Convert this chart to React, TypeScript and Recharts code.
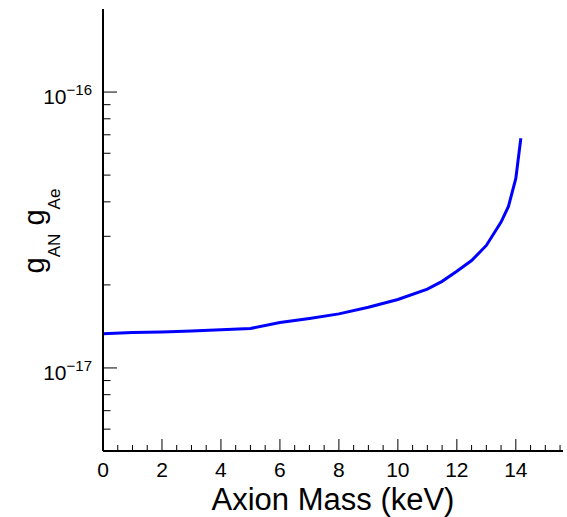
import React from "react";
import { LineChart, Line, XAxis, YAxis } from "recharts";

const massKeV = [0, 1, 2, 3, 4, 5, 6, 7, 8, 9, 10, 11, 11.5, 12, 12.5, 13, 13.5, 13.75, 14, 14.17];
const coupling = [
  1.33e-17, 1.345e-17, 1.35e-17, 1.36e-17, 1.375e-17, 1.39e-17, 1.46e-17, 1.51e-17,
  1.57e-17, 1.66e-17, 1.77e-17, 1.93e-17, 2.06e-17, 2.24e-17, 2.45e-17, 2.78e-17, 3.38e-17,
  3.85e-17, 4.86e-17, 6.8e-17,
];
const xTicks = [
  0, 0.5, 1, 1.5, 2, 2.5, 3, 3.5, 4, 4.5, 5, 5.5, 6, 6.5, 7, 7.5, 8, 8.5, 9, 9.5, 10,
  10.5, 11, 11.5, 12, 12.5, 13, 13.5, 14, 14.5, 15, 15.5,
];
const xMajorLabels = [0, 2, 4, 6, 8, 10, 12, 14];
const yTicks = [
  6e-18, 7e-18, 8e-18, 9e-18, 1e-17, 2e-17, 3e-17, 4e-17, 5e-17, 6e-17, 7e-17, 8e-17,
  9e-17, 1e-16,
];
const xDomain = [0, 15.6];
const yDomain = [5e-18, 2e-16];

const data = massKeV.map((m, i) => ({ mass: m, g: coupling[i] }));

const FONT = "'Liberation Sans', Arial, Helvetica, sans-serif";

const isMajorX = (v: number) => Math.abs(v - Math.round(v)) < 1e-9 && Math.round(v) % 2 === 0;
const isMajorY = (v: number) => {
  const l = Math.log10(v);
  return Math.abs(l - Math.round(l)) < 1e-6;
};

const BottomTick = (props: any) => {
  const { x, y, payload } = props;
  const v = payload.value;
  const major = isMajorX(v);
  return (
    <g>
      <line x1={x} x2={x} y1={y} y2={y - (major ? 12 : 6)} stroke="#000" strokeWidth={1} />
      {xMajorLabels.includes(v) ? (
        <text x={x} y={y + 25.5} textAnchor="middle" fontSize={21} fontFamily={FONT} fill="#000">
          {v}
        </text>
      ) : null}
    </g>
  );
};

const TopTick = (props: any) => {
  const { x, y, payload } = props;
  const major = isMajorX(payload.value);
  return <line x1={x} x2={x} y1={y} y2={y + (major ? 12 : 6)} stroke="#000" strokeWidth={1} />;
};

const LeftTick = (props: any) => {
  const { x, y, payload } = props;
  const v = payload.value;
  const major = isMajorY(v);
  const exp = Math.round(Math.log10(v));
  return (
    <g>
      <line x1={x} x2={x + (major ? 14 : 7.5)} y1={y} y2={y} stroke="#000" strokeWidth={1} />
      {major ? (
        <text x={x - 11} y={y + 12} textAnchor="end" fontSize={21} fontFamily={FONT} fill="#000">
          <tspan>10</tspan>
          <tspan dy={-9} fontSize={15}>{"\u2212" + Math.abs(exp)}</tspan>
        </text>
      ) : null}
    </g>
  );
};

const RightTick = (props: any) => {
  const { x, y, payload } = props;
  const major = isMajorY(payload.value);
  return <line x1={x} x2={x - (major ? 14 : 7.5)} y1={y} y2={y} stroke="#000" strokeWidth={1} />;
};

export default function App() {
  return (
    <div style={{ position: "fixed", left: 0, top: 0, background: "#fff" }}>
      <LineChart
        width={567}
        height={517}
        data={data}
        margin={{ top: 9, right: 4, bottom: 0, left: 0 }}
      >
        <XAxis
          xAxisId="b"
          type="number"
          dataKey="mass"
          domain={xDomain}
          ticks={xTicks}
          interval={0}
          height={66}
          tickSize={0}
          tickMargin={0}
          tickLine={false}
          axisLine={{ stroke: "#000", strokeWidth: 2 }}
          tick={<BottomTick />}
          allowDataOverflow
        />
        <XAxis
          xAxisId="t"
          orientation="top"
          type="number"
          dataKey="mass"
          domain={xDomain}
          ticks={xTicks}
          interval={0}
          height={0}
          tickSize={0}
          tickMargin={0}
          tickLine={false}
          axisLine={{ stroke: "#000", strokeWidth: 2 }}
          tick={<TopTick />}
          allowDataOverflow
        />
        <YAxis
          yAxisId="l"
          scale="log"
          type="number"
          domain={yDomain}
          ticks={yTicks}
          interval={0}
          width={103}
          tickSize={0}
          tickMargin={0}
          tickLine={false}
          axisLine={{ stroke: "#000", strokeWidth: 2 }}
          tick={<LeftTick />}
          allowDataOverflow
        />
        <YAxis
          yAxisId="r"
          orientation="right"
          scale="log"
          type="number"
          domain={yDomain}
          ticks={yTicks}
          interval={0}
          width={0}
          tickSize={0}
          tickMargin={0}
          tickLine={false}
          axisLine={{ stroke: "#000", strokeWidth: 2 }}
          tick={<RightTick />}
          allowDataOverflow
        />
        <Line
          xAxisId="b"
          yAxisId="l"
          type="linear"
          dataKey="g"
          stroke="#0000ff"
          strokeWidth={3}
          dot={false}
          isAnimationActive={false}
        />
        <text x={333} y={510} textAnchor="middle" fontSize={31} fontFamily={FONT} fill="#000">
          Axion Mass (keV)
        </text>
        <text
          transform="translate(44,231) rotate(-90)"
          textAnchor="middle"
          fontSize={29}
          fontFamily={FONT}
          fill="#000"
        >
          <tspan>g</tspan>
          <tspan dy={16} fontSize={17}>AN</tspan>
          <tspan dy={-16}>{"\u00a0g"}</tspan>
          <tspan dy={16} fontSize={17}>Ae</tspan>
        </text>
      </LineChart>
    </div>
  );
}
